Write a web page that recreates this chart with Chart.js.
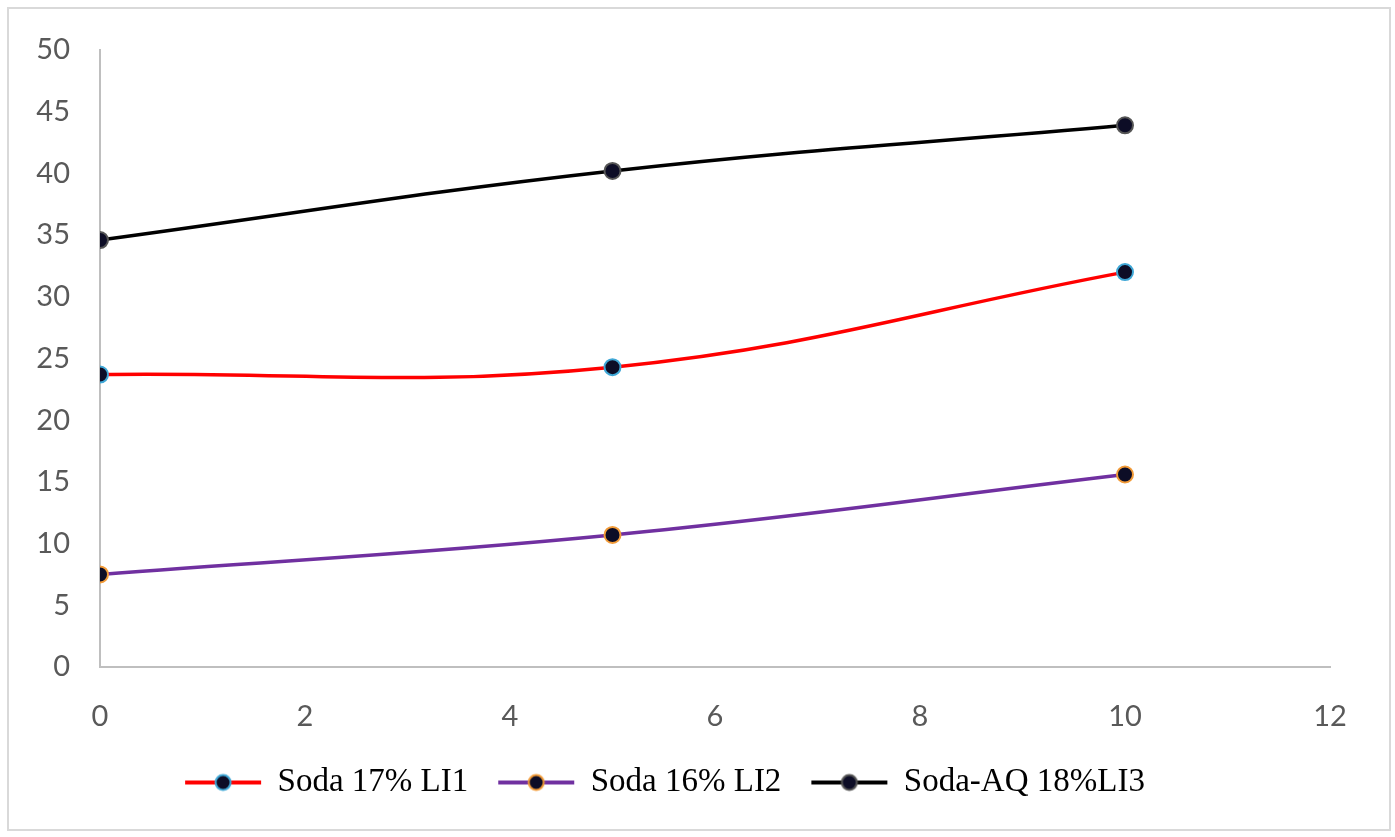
<!DOCTYPE html>
<html>
<head>
<meta charset="utf-8">
<script src="https://cdn.jsdelivr.net/npm/chart.js@4/dist/chart.umd.min.js"></script>
<style>
  html, body { margin: 0; padding: 0; background: #fff; }
  #frame { position: absolute; left: 7px; top: 7px; width: 1384px; height: 824px; box-sizing: border-box; border: 2px solid #d9d9d9; }
  #wrap { position: absolute; left: 0; top: 0; width: 1395px; height: 837px; }
</style>
</head>
<body>
<div id="frame"></div>
<div id="wrap"><canvas id="chart" width="1395" height="837"></canvas></div>
<script>
const xValues = [0, 5, 10];
const seriesNames = ['Soda 17% LI1', 'Soda 16% LI2', 'Soda-AQ 18%LI3'];
const soda17 = [23.7, 24.3, 32.0];
const soda16 = [7.5, 10.7, 15.6];
const sodaAQ18 = [34.6, 40.2, 43.9];

const lineColors = ['#ff0000', '#7030a0', '#000000'];
const markerEdges = ['#3fa7d6', '#f29b38', '#555555'];
const markerFill = '#0d0d26';

// legend swatch: line with a dot in the middle
function swatch(color, edge) {
  const c = document.createElement('canvas');
  c.width = 80; c.height = 20;
  const g = c.getContext('2d');
  g.strokeStyle = color; g.lineWidth = 4;
  g.beginPath(); g.moveTo(2, 10); g.lineTo(78, 10); g.stroke();
  g.beginPath(); g.arc(40, 10, 7.5, 0, Math.PI * 2);
  g.fillStyle = markerFill; g.fill();
  g.lineWidth = 2; g.strokeStyle = edge; g.stroke();
  return c;
}
const swatches = lineColors.map((c, i) => swatch(c, markerEdges[i]));

function pts(vals) { return xValues.map((x, i) => ({x: x, y: vals[i]})); }

const datasets = [soda17, soda16, sodaAQ18].map((vals, i) => ({
  label: seriesNames[i],
  data: pts(vals),
  borderColor: lineColors[i],
  borderWidth: 3.5,
  tension: 0.4,
  pointRadius: 8,
  pointBackgroundColor: markerFill,
  pointBorderColor: markerEdges[i],
  pointBorderWidth: 2,
  fill: false
}));

const tickFont = { family: 'Lato', size: 29 };

new Chart(document.getElementById('chart').getContext('2d'), {
  type: 'line',
  data: { datasets: datasets },
  options: {
    responsive: false,
    animation: false,
    layout: { padding: { left: 0, top: 50, right: 65, bottom: 28 } },
    plugins: {
      tooltip: { enabled: false },
      legend: {
        position: 'bottom',
        labels: {
          usePointStyle: true,
          pointStyleWidth: 76,
          padding: 30,
          color: '#000',
          font: { family: 'Liberation Serif', size: 33 },
          generateLabels: (chart) => {
            const items = Chart.defaults.plugins.legend.labels.generateLabels(chart);
            items.forEach((it, i) => { it.pointStyle = swatches[i]; });
            return items;
          }
        }
      }
    },
    scales: {
      x: {
        type: 'linear',
        min: 0, max: 12,
        ticks: { stepSize: 2, color: '#595959', font: tickFont, padding: 32 },
        grid: { display: false, drawTicks: false },
        border: { display: true, color: '#bfbfbf', width: 2 },
        afterFit: (s) => { s.height = 69; }
      },
      y: {
        min: 0, max: 50,
        ticks: { stepSize: 5, color: '#595959', font: tickFont, padding: 30 },
        grid: { display: false, drawTicks: false },
        border: { display: true, color: '#bfbfbf', width: 2 },
        afterFit: (s) => { s.width = 100; }
      }
    }
  }
});
</script>
</body>
</html>
